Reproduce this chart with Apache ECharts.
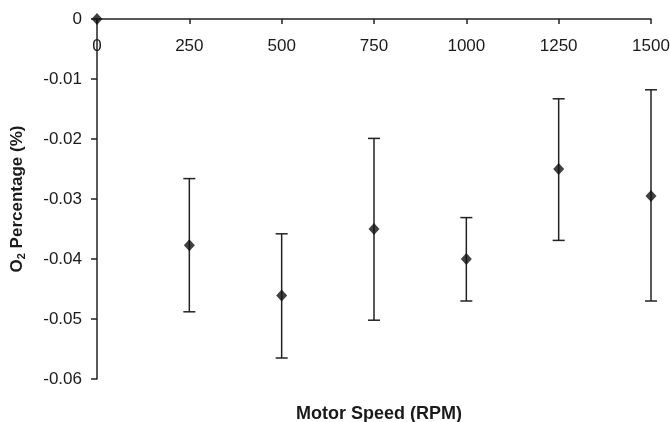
<!DOCTYPE html>
<html>
<head>
<meta charset="utf-8">
<script src="https://cdn.jsdelivr.net/npm/echarts@6/dist/echarts.min.js"></script>
<style>html,body{margin:0;padding:0;background:#fff;}#c{width:670px;height:422px;}</style>
</head>
<body>
<div id="c"></div>
<script>
var speeds = [0, 250, 500, 750, 1000, 1250, 1500];
var means  = [0, -0.0377, -0.0461, -0.0350, -0.0400, -0.0250, -0.0295];
var upper  = [0, -0.0266, -0.0358, -0.0199, -0.0331, -0.0133, -0.0118];
var lower  = [0, -0.0488, -0.0565, -0.0502, -0.0470, -0.0369, -0.0470];
var xTicks = [0, 250, 500, 750, 1000, 1250, 1500];
var yTicks = [0, -0.01, -0.02, -0.03, -0.04, -0.05, -0.06];

var pts = speeds.map(function (s, i) { return [s, means[i]]; });
var errs = speeds.map(function (s, i) { return [s, upper[i], lower[i]]; });

var chart = echarts.init(document.getElementById('c'), null, {renderer: 'canvas'});
var font = '"Liberation Sans", Arial, sans-serif';
chart.setOption({
  animation: false,
  backgroundColor: '#fff',
  grid: {left: 97, right: 19, top: 19, bottom: 43, containLabel: false, outerBoundsMode: 'none'},
  title: {
    text: 'Motor Speed (RPM)',
    left: 374, top: 400, textAlign: 'center',
    textStyle: {fontFamily: font, fontSize: 18, fontWeight: 'bold', color: '#1a1a1a'}
  },
  xAxis: {
    type: 'value', position: 'top',
    min: xTicks[0], max: xTicks[xTicks.length - 1], interval: 250,
    axisLine: {show: true, onZero: false, lineStyle: {color: '#222', width: 1.5}},
    axisTick: {show: true, inside: true, length: 5, lineStyle: {color: '#222', width: 1.5}},
    axisLabel: {inside: true, margin: 19, fontFamily: font, fontSize: 17, color: '#1a1a1a',
      formatter: function (v) { return xTicks.indexOf(v) >= 0 ? String(v) : ''; }},
    splitLine: {show: false}
  },
  yAxis: {
    type: 'value',
    min: yTicks[yTicks.length - 1], max: yTicks[0], interval: 0.01,
    name: '{b|O}{s|2}{b| Percentage (%)}',
    nameLocation: 'middle', nameGap: 70, nameRotate: 90,
    nameTextStyle: {
      rich: {
        b: {fontFamily: font, fontSize: 17, fontWeight: 'bold', color: '#1a1a1a'},
        s: {fontFamily: font, fontSize: 11, fontWeight: 'bold', color: '#1a1a1a', padding: [8, 0, 0, 0]}
      }
    },
    axisLine: {show: true, onZero: false, lineStyle: {color: '#222', width: 1.5}},
    axisTick: {show: true, inside: false, length: 6, lineStyle: {color: '#222', width: 1.5}},
    axisLabel: {margin: 15, fontFamily: font, fontSize: 17, color: '#1a1a1a',
      formatter: function (v) {
        var r = Math.round(v * 100) / 100;
        for (var i = 0; i < yTicks.length; i++) { if (Math.abs(yTicks[i] - r) < 1e-9) return String(yTicks[i]); }
        return String(r);
      }},
    splitLine: {show: false}
  },
  series: [
    {
      type: 'custom',
      data: errs,
      renderItem: function (params, api) {
        var x = api.value(0), hi = api.value(1), lo = api.value(2);
        if (hi === lo) return null;
        var p1 = api.coord([x, hi]), p2 = api.coord([x, lo]);
        var w = 6;
        var st = {stroke: '#222', lineWidth: 1.5};
        return {
          type: 'group',
          children: [
            {type: 'line', shape: {x1: p1[0], y1: p1[1], x2: p2[0], y2: p2[1]}, style: st},
            {type: 'line', shape: {x1: p1[0] - w, y1: p1[1], x2: p1[0] + w, y2: p1[1]}, style: st},
            {type: 'line', shape: {x1: p2[0] - w, y1: p2[1], x2: p2[0] + w, y2: p2[1]}, style: st}
          ]
        };
      },
      z: 2
    },
    {
      type: 'scatter',
      data: pts,
      symbol: 'diamond',
      symbolSize: [11, 12],
      itemStyle: {color: '#111'},
      z: 3
    }
  ]
});
</script>
</body>
</html>
